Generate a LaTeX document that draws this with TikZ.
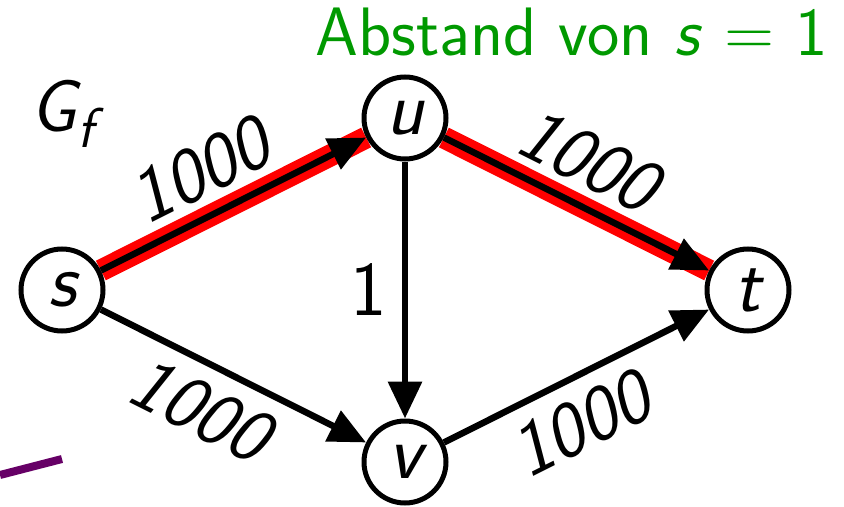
\documentclass[tikz,border=0pt]{standalone}
\usepackage{tikz}
\usetikzlibrary{arrows.meta, positioning, backgrounds}
\usepackage{xcolor}
\definecolor{darkgreen}{RGB}{0,153,0}
\definecolor{darkpurple}{RGB}{102,0,102}

\begin{document}
\begin{tikzpicture}[
        on grid,
        node distance=3.44cm and 6.86cm,
        vertex/.style={circle, draw=black, line width=0.1cm, fill=white, minimum size=1.64cm, inner sep=0pt, font=\fontsize{44}{50}\selectfont\sffamily\slshape},
        arrow/.style={-{Triangle[length=0.74cm, width=0.66cm]}, line width=0.13cm},
        flow/.style={red, line width=0.44cm},
        labelnode/.style={font=\fontsize{44}{50}\selectfont\sffamily\slshape, inner sep=0pt},
        textnode/.style={font=\fontsize{39}{45}\selectfont\sffamily, inner sep=0pt}
    ]
        \useasboundingbox (0,0) rectangle (16.88,10.12);

        % Nodes
        \node (s) [vertex] at (1.24,4.32) {s};
        \node (u) [vertex, above right=of s] {u};
        \node (t) [vertex, below right=of u] {t};
        \node (v) [vertex, below right=of s] {v};
        \node (graph) [textnode, font=\fontsize{42}{48}\selectfont\sffamily, anchor=base west] at (0.6,7.5) {\textsl{G}\kern-0.05em\raisebox{-0.22em}{\fontsize{32}{36}\selectfont\textsl{f}}};
        \node (dist) [textnode, darkgreen, anchor=base west] at (6.3,9.02) {Abstand von \textsl{s} = 1};
        \coordinate (p1) at (0,0.62);
        \coordinate (p2) at (1.24,0.94);

        % Path
        \begin{scope}[on background layer]
            \draw [flow] (s) -- (u);
            \draw [flow] (u) -- (t);
        \end{scope}

        % Arrows
        \draw [arrow] (s) -- (u) node[pos=0.45, sloped, above=0.3cm, labelnode] {1000};
        \draw [arrow] (u) -- (t) node[pos=0.47, sloped, above=0.3cm, labelnode] {1000};
        \draw [arrow] (s) -- (v) node[pos=0.45, sloped, below=0.3cm, labelnode] {1000};
        \draw [arrow] (v) -- (t) node[pos=0.44, sloped, below=0.3cm, labelnode] {1000};
        \draw [arrow] (u) -- (v) node[midway, left=0.3cm, labelnode, font=\fontsize{44}{50}\selectfont\sffamily] {1};
        \draw [darkpurple, line width=0.16cm] (p1) -- (p2);
    \end{tikzpicture}
\end{document}
